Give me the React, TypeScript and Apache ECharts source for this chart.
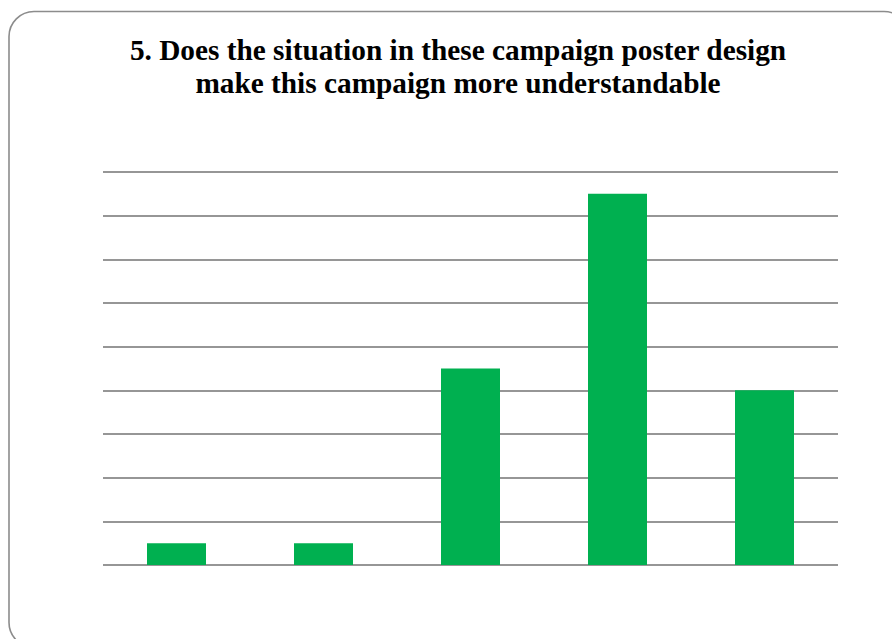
import React, { useEffect, useRef } from "react";
import * as echarts from "echarts";

const categories = ["1", "2", "3", "4", "5"];
const responses = [1, 1, 9, 17, 8];
const titleLines = [
  "5. Does the situation in these campaign poster design",
  "make this campaign more understandable",
];

export default function App() {
  const ref = useRef<HTMLDivElement>(null);

  useEffect(() => {
    if (!ref.current) return;
    const chart = echarts.init(ref.current, null, { renderer: "svg" });
    chart.setOption({
      animation: false,
      backgroundColor: "#ffffff",
      title: {
        text: titleLines.join("\n"),
        left: 453,
        top: 28,
        textAlign: "center",
        textStyle: {
          fontFamily: "'Liberation Serif', 'DejaVu Serif', serif",
          fontWeight: "bold",
          fontSize: 29.3,
          lineHeight: 33,
          color: "#000000",
        },
      },
      graphic: [
        {
          type: "rect",
          shape: { x: 9, y: 11.5, width: 900, height: 636, r: 25 },
          style: { fill: "none", stroke: "#8c8c8c", lineWidth: 1.6 },
          silent: true,
          z: -1,
        },
      ],
      grid: { left: 103, right: 54, top: 172, bottom: 74 },
      xAxis: {
        type: "category",
        data: categories,
        axisLine: { show: false },
        axisTick: { show: false },
        axisLabel: { show: false },
      },
      yAxis: {
        type: "value",
        min: 0,
        max: 18,
        interval: 2,
        axisLine: { show: false },
        axisTick: { show: false },
        axisLabel: { show: false },
        splitLine: { lineStyle: { color: "#969696", width: 2 } },
      },
      series: [
        {
          type: "bar",
          data: responses,
          barWidth: 59,
          itemStyle: { color: "#00b050" },
        },
      ],
    });
    return () => chart.dispose();
  }, []);

  return (
    <div
      ref={ref}
      style={{ position: "absolute", left: 0, top: 0, width: 892, height: 639 }}
    />
  );
}
